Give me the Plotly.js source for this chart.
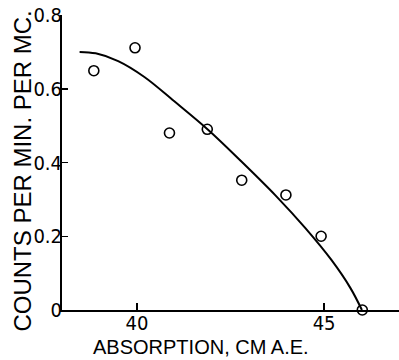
<!DOCTYPE html>
<html>
<head>
<meta charset="utf-8">
<script src="https://cdn.plot.ly/plotly-3.0.1.min.js"></script>
<style>html,body{margin:0;padding:0;background:#fff;}</style>
</head>
<body>
<div id="chart" style="width:399px;height:360px;"></div>
<script>
// measured points
const absorption = [38.85, 39.95, 40.87, 41.88, 42.80, 43.98, 44.92, 46.02];
const counts = [0.649, 0.711, 0.480, 0.490, 0.352, 0.312, 0.200, 0.0];
// fitted curve
const curveX = [38.47, 38.9, 39.5, 40.2, 41.0, 41.9, 42.8, 43.7, 44.5, 45.2, 45.7, 46.01];
const curveY = [0.700, 0.696, 0.675, 0.632, 0.566, 0.489, 0.402, 0.311, 0.222, 0.135, 0.060, 0.0];
const xTickVals = [40, 45];
const yTickVals = [0, 0.2, 0.4, 0.6, 0.8];
const yTickText = ['0', '0.2', '0.4', '0.6', '0.8'];
const xTitle = 'ABSORPTION, CM A.E.';
const yTitle = 'COUNTS PER MIN. PER MC.';

const traces = [
  {x: curveX, y: curveY, mode: 'lines', line: {color: '#000', width: 2, shape: 'spline', smoothing: 1}, hoverinfo: 'skip', cliponaxis: false},
  {x: absorption, y: counts, mode: 'markers', cliponaxis: false,
   marker: {symbol: 'circle-open', size: 10, color: '#000', line: {width: 1.6, color: '#000'}}}
];
const tickFont = {family: '"Liberation Sans Narrow", "DejaVu Sans Condensed", sans-serif', size: 20, color: '#000'};
const layout = {
  width: 399, height: 360,
  margin: {l: 62, r: 0, t: 15, b: 50},
  paper_bgcolor: '#fff', plot_bgcolor: '#fff',
  showlegend: false,
  xaxis: {
    range: [38, 47], tickvals: xTickVals, ticks: 'inside', ticklen: 7, tickwidth: 1.5, tickcolor: '#000',
    showline: true, linecolor: '#000', linewidth: 2, showgrid: false, zeroline: false,
    tickfont: tickFont, ticklabelstandoff: -6
  },
  yaxis: {
    range: [0, 0.8], tickvals: yTickVals, ticktext: yTickText, ticks: 'inside', ticklen: 6, tickwidth: 1.5, tickcolor: '#000',
    showline: true, linecolor: '#000', linewidth: 2, showgrid: false, zeroline: false,
    tickfont: tickFont, ticklabelstandoff: -6
  },
  annotations: [{
    text: yTitle, xref: 'paper', yref: 'paper', x: -0.118, y: 0.47,
    xanchor: 'center', yanchor: 'middle', textangle: -90, showarrow: false,
    font: {family: '"Liberation Sans", Arial, sans-serif', size: 24, color: '#000'}
  }, {
    text: xTitle, xref: 'paper', yref: 'paper', x: 0.4125, y: -0.1695,
    xanchor: 'center', yanchor: 'bottom', showarrow: false,
    font: {family: '"Liberation Sans", Arial, sans-serif', size: 20, color: '#000'}
  }]
};
Plotly.newPlot('chart', traces, layout, {displayModeBar: false, staticPlot: true});
</script>
</body>
</html>
